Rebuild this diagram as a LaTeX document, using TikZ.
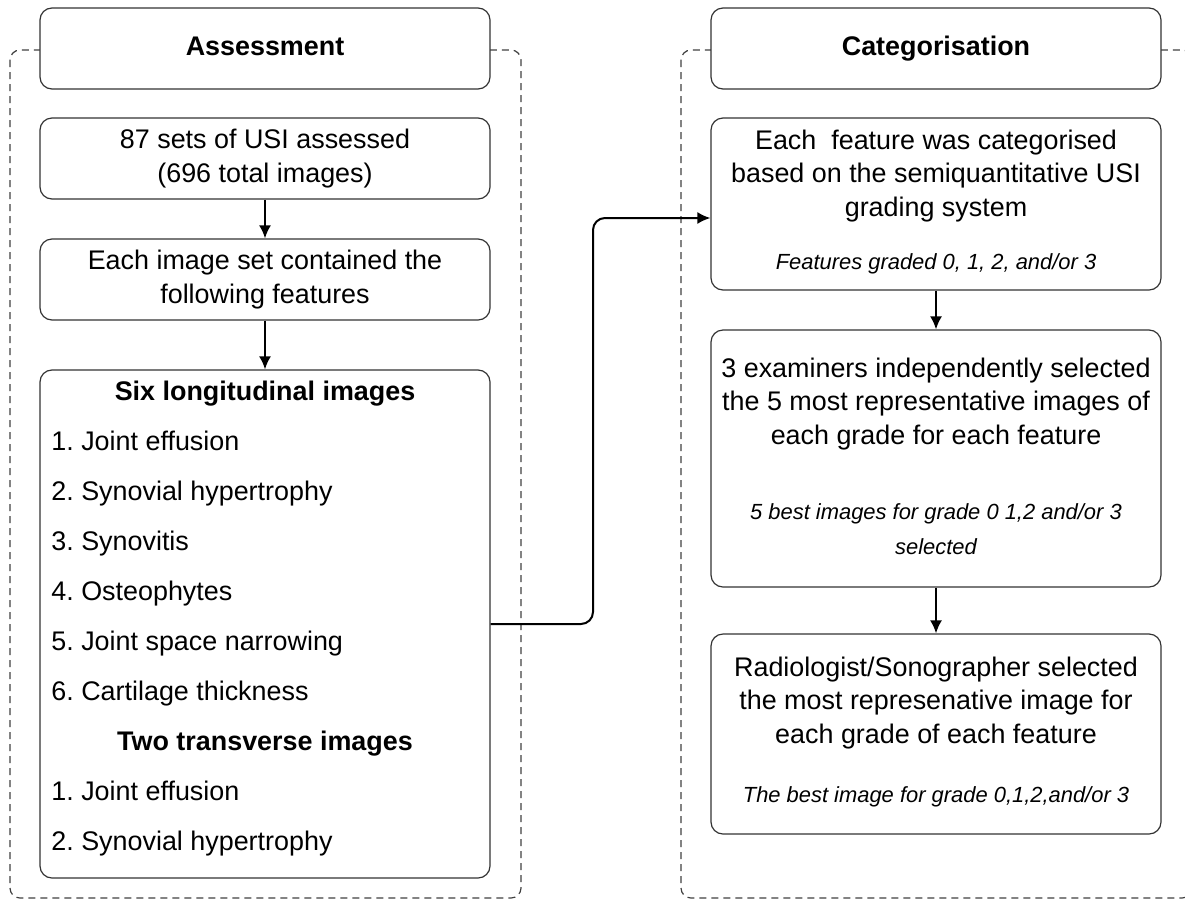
\documentclass[tikz,border=0pt]{standalone}
\usepackage{fontspec}
\setmainfont{Liberation Sans}
\usetikzlibrary{arrows.meta}
\frenchspacing
\begin{document}
\begin{tikzpicture}[>={Latex[length=6.5bp,width=6bp]},line join=bevel,x=0.5bp,y=-0.5bp,
  box/.style={draw=black!80,line width=0.6bp,rounded corners=6bp,fill=white,minimum width=225bp,inner sep=0pt},
  group/.style={draw=black!75,dash pattern=on 3.5bp off 2.5bp,line width=0.6bp,rounded corners=5bp},
  txt/.style={align=center,inner sep=0pt,font=\fontsize{13.5}{16.8}\selectfont},
  hd/.style={inner sep=0pt,text height=0.72em,text depth=0pt,font=\fontsize{13.5}{16}\bfseries\selectfont},
  item/.style={anchor=west,inner sep=0pt,text height=0.72em,text depth=0pt,font=\fontsize{13.5}{16}\selectfont},
  note/.style={align=center,inner sep=0pt,font=\fontsize{11}{17.5}\itshape\selectfont},
  flow/.style={->,line width=1bp},
]
%%
\useasboundingbox (0,0) rectangle (1185,900);
\clip (0,0) rectangle (1185,900);
\draw [group] (10,50) rectangle (521,898);
  \draw [group] (681,50) rectangle (1192,898);
%
\node (node_hassess) at (265,48.5) [box,minimum height=40.5bp] {};
  \node (node_tassess) at (265,48.5) [hd] {Assessment};
  \node (node_hcat) at (936,48.5) [box,minimum height=40.5bp] {};
  \node (node_tcat) at (936,48.5) [hd] {Categorisation};
%
\node (node_sets) at (265,158.5) [box,minimum height=40.5bp,txt] {87 sets of USI assessed\\(696 total images)};
  \node (node_each) at (265,279.5) [box,minimum height=40.5bp,txt] {Each image set contained the\\following features};
  \node (node_feat) at (265,624) [box,minimum height=254bp] {};
  \node (node_six) at (265,393) [hd] {Six longitudinal images};
  \node (node_l1) at (51,443) [item] {1. Joint effusion};
  \node (node_l2) at (51,493) [item] {2. Synovial hypertrophy};
  \node (node_l3) at (51,543) [item] {3. Synovitis};
  \node (node_l4) at (51,593) [item] {4. Osteophytes};
  \node (node_l5) at (51,643) [item] {5. Joint space narrowing};
  \node (node_l6) at (51,693) [item] {6. Cartilage thickness};
  \node (node_two) at (265,743) [hd] {Two transverse images};
  \node (node_t1) at (51,793) [item] {1. Joint effusion};
  \node (node_t2) at (51,843) [item] {2. Synovial hypertrophy};
%
\node (node_grade) at (936,204) [box,minimum height=86bp] {};
  \node (node_gtxt) at (936,176) [txt] {Each\ \ feature was categorised\\based on the semiquantitative USI\\grading system};
  \node (node_gnote) at (936,264) [note] {Features graded 0, 1, 2, and/or 3};
  \node (node_exam) at (936,458.5) [box,minimum height=128.5bp] {};
  \node (node_etxt) at (936,404) [txt] {3 examiners independently selected\\the 5 most representative images of\\each grade for each feature};
  \node (node_enote) at (936,529) [note] {5 best images for grade 0 1,2 and/or 3\\selected};
  \node (node_radio) at (936,734) [box,minimum height=100bp] {};
  \node (node_rtxt) at (936,703) [txt] {Radiologist/Sonographer selected\\the most represenative image for\\each grade of each feature};
  \node (node_rnote) at (936,797) [note] {The best image for grade 0,1,2,and/or 3};
%
\coordinate (node_bend) at (593,400);
\draw [flow] (node_sets) -- (node_each);
  \draw [flow] (node_each) -- (node_feat);
  \draw [flow] (node_grade) -- (node_exam);
  \draw [flow] (node_exam) -- (node_radio);
  \draw [flow,rounded corners=6bp] (node_feat.east) -| (node_bend) |- ([yshift=-7bp]node_grade.west);
%
\end{tikzpicture}
\end{document}
